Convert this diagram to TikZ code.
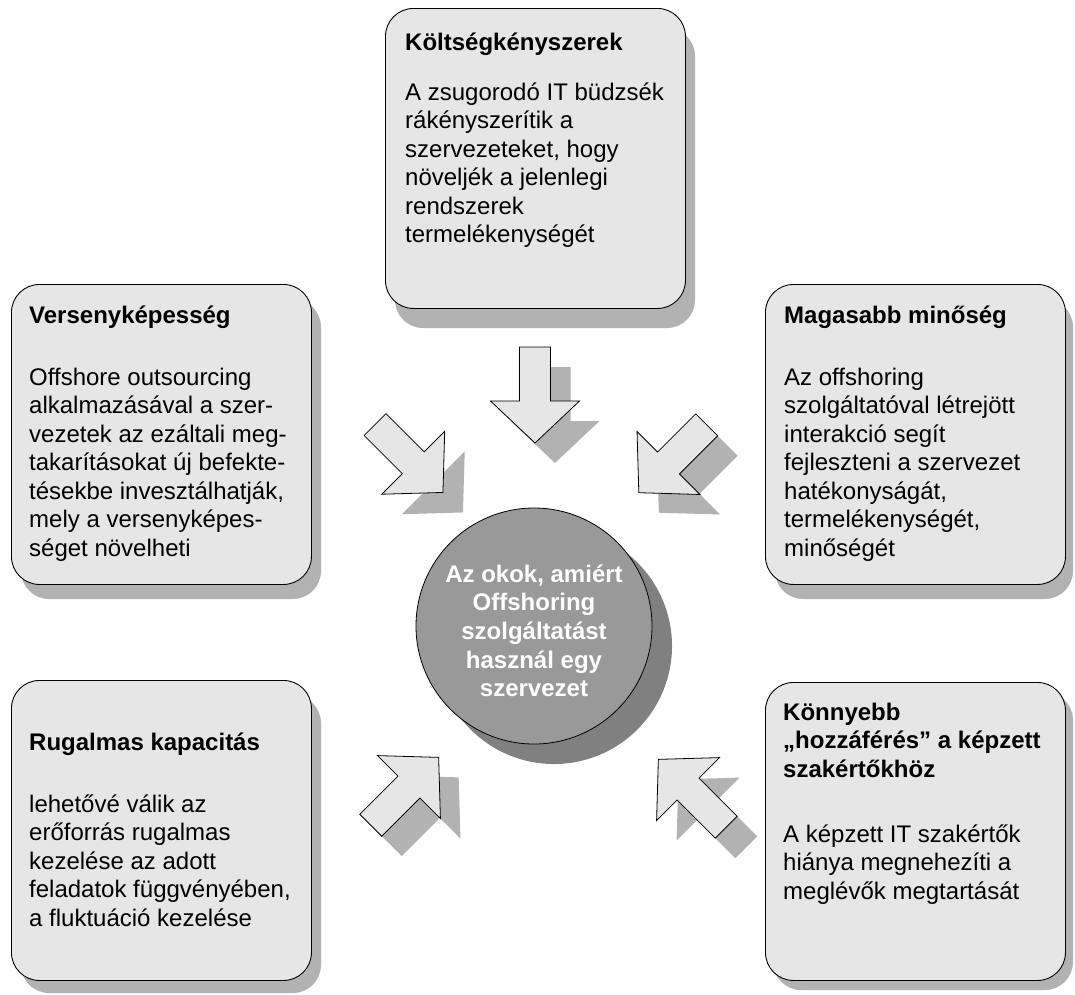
\documentclass[tikz,border=0pt]{standalone}
\usepackage{fontspec}
\setmainfont{Liberation Sans}
\definecolor{panelfill}{HTML}{E6E6E6}
\definecolor{shadowgray}{HTML}{B2B2B2}
\definecolor{hubfill}{HTML}{999999}
\definecolor{hubshadow}{HTML}{808080}
% block arrow: centre x, centre y, direction angle
\newcommand\pusharrow[3]{%
  \fill[shadowgray, shift={(#1+20,#2+20)}, rotate=#3]
    (-48,-15.5) -- (6,-15.5) -- (6,-44.5) -- (48,0) -- (6,44.5) -- (6,15.5) -- (-48,15.5) -- cycle;
  \filldraw[fill=panelfill, draw=black, line width=0.8pt, line join=miter, shift={(#1,#2)}, rotate=#3]
    (-48,-15.5) -- (6,-15.5) -- (6,-44.5) -- (48,0) -- (6,44.5) -- (6,15.5) -- (-48,15.5) -- cycle;
}
\begin{document}
\begin{tikzpicture}[x=1pt, y=-1pt,
  panel/.style={draw=black, line width=0.9pt, fill=panelfill, rounded corners=28pt,
    anchor=north west, inner sep=0pt, minimum width=300pt, minimum height=300pt},
  panelshadow/.style={fill=shadowgray, rounded corners=28pt},
  txt/.style={anchor=base west, inner sep=0pt, font=\fontsize{24}{28.5}\selectfont},
  ttl/.style={txt, font=\fontsize{24}{28.5}\selectfont\bfseries}]
\useasboundingbox (0,0) rectangle (1075,994);

% shadows of the panels
\fill[panelshadow] (395,28) rectangle (695,328);
\fill[panelshadow] (21,299) rectangle (321,599);
\fill[panelshadow] (775,299) rectangle (1073,599);
\fill[panelshadow] (21,695) rectangle (321,993);
\fill[panelshadow] (773,692) rectangle (1073,990);

% panels
\node[panel] (cost) at (385,8) {};
\node[panel] (compete) at (11,284) {};
\node[panel] (quality) at (765,284) {};
\node[panel] (flex) at (11,680) {};
\node[panel, minimum height=298pt] (access) at (765,682) {};

% panel texts
\node[ttl] (costT) at (405,50) {Költségkényszerek};
\node[txt] (costB) at (405,100) {\parbox[t]{400pt}{\raggedright
  A zsugorodó IT büdzsék\\ rákényszerítik a\\ szervezeteket, hogy\\
  növeljék a jelenlegi\\ rendszerek\\ termelékenységét}};

\node[ttl] (competeT) at (29,323) {Versenyképesség};
\node[txt] (competeB) at (29,385) {\parbox[t]{400pt}{\raggedright
  Offshore outsourcing\\ alkalmazásával a szer-\\ vezetek az ezáltali meg-\\
  takarításokat új befekte-\\ tésekbe invesztálhatják,\\ mely a versenyképes-\\
  séget növelheti}};

\node[ttl] (qualityT) at (784,323) {Magasabb minőség};
\node[txt] (qualityB) at (784,385) {\parbox[t]{400pt}{\raggedright
  Az offshoring\\ szolgáltatóval létrejött\\ interakció segít\\
  fejleszteni a szervezet\\ hatékonyságát,\\ termelékenységét,\\ minőségét}};

\node[ttl] (flexT) at (29,750) {Rugalmas kapacitás};
\node[txt] (flexB) at (29,812) {\parbox[t]{400pt}{\raggedright
  lehetővé válik az\\ erőforrás rugalmas\\ kezelése az adott\\
  feladatok függvényében,\\ a fluktuáció kezelése}};

\node[ttl] (accessT) at (783,720) {\parbox[t]{400pt}{\raggedright
  Könnyebb\\ „hozzáférés” a képzett\\ szakértőkhöz}};
\node[txt] (accessB) at (783,842) {\parbox[t]{400pt}{\raggedright
  A képzett IT szakértők\\ hiánya megnehezíti a\\ meglévők megtartását}};

% arrows pointing at the centre
\pusharrow{535}{395}{-90}
\pusharrow{409}{458.5}{-45}
\pusharrow{672.75}{458.75}{-135}
\pusharrow{404.7}{791.3}{45}
\pusharrow{692.3}{793.3}{135}

% central disc
\fill[hubshadow] (554,646) circle[radius=118];
\node[circle, draw=black, line width=0.8pt, fill=hubfill, minimum size=236pt, inner sep=0pt] (hub) at (534,626) {};
\node[anchor=base, inner sep=0pt, text=white, font=\fontsize{24}{28.7}\selectfont\bfseries] (hubT) at (534,582)
  {\parbox[t]{236pt}{\centering Az okok, amiért\\ Offshoring\\ szolgáltatást\\ használ egy\\ szervezet}};
\end{tikzpicture}
\end{document}
